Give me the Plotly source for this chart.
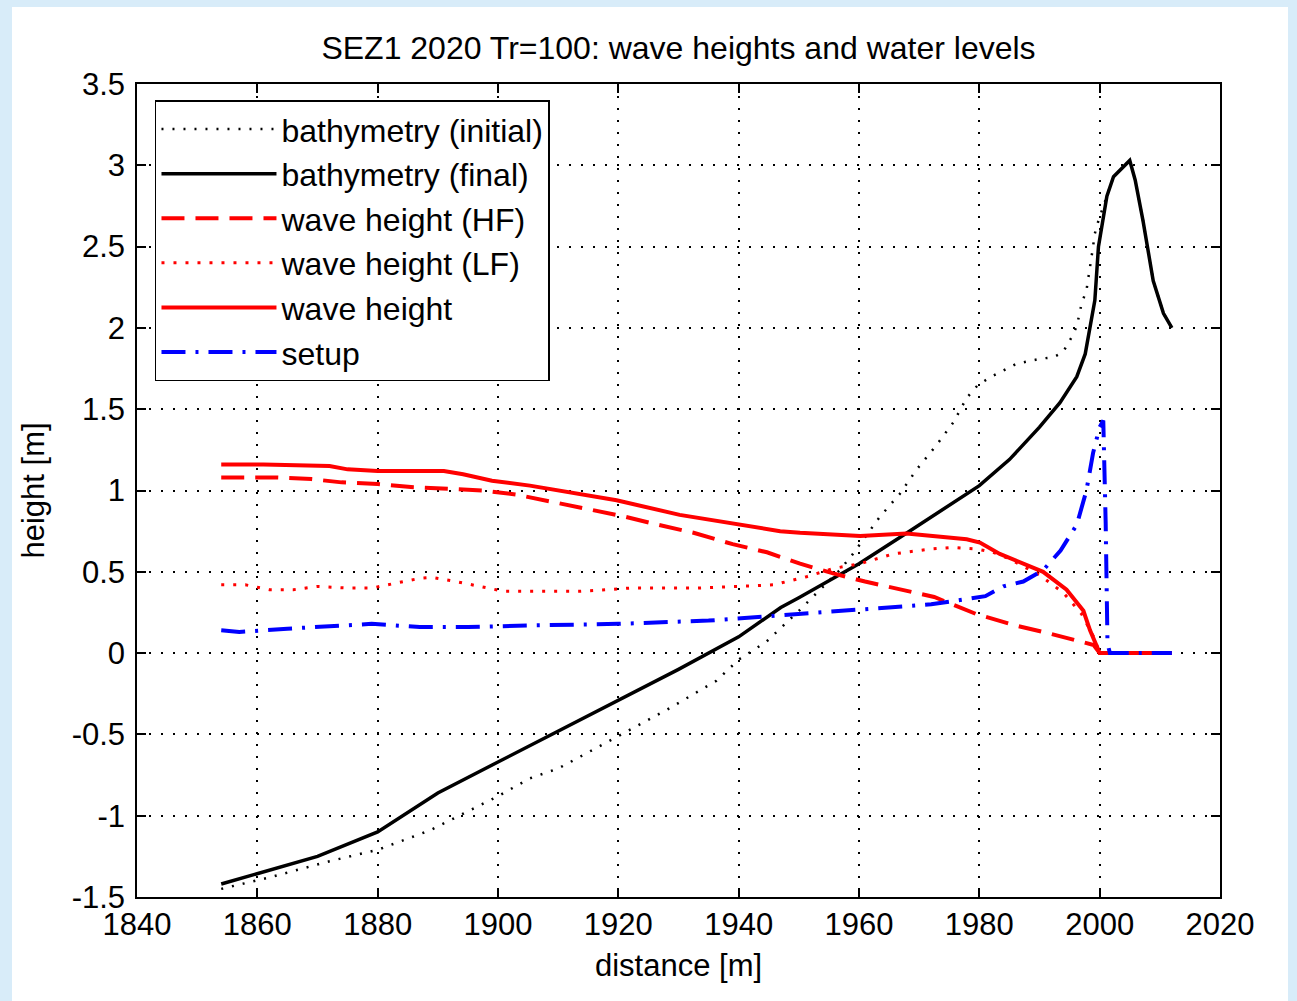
import plotly.graph_objects as go

# ---- data ----
bathy_init_x = [1854, 1862, 1872, 1880, 1888.7, 1900, 1905.3, 1910, 1920, 1928, 1936.3, 1940, 1944.6,
                1950, 1956.8, 1959, 1963.5, 1966.8, 1969.6, 1972.9, 1975.7, 1977.9, 1979.8, 1982,
                1986.2, 1990.1, 1992.3, 1993.9, 1995.3, 1996.2, 1997, 1997.8, 1998.7, 1999.2, 1999.8,
                2001.2, 2002.3, 2005, 2005.9, 2007.2, 2008.9, 2010.6, 2012]
bathy_init_y = [-1.45, -1.38, -1.28, -1.21, -1.09, -0.88, -0.77, -0.71, -0.51, -0.35, -0.17, -0.04, 0.07,
                0.26, 0.51, 0.61, 0.84, 0.98, 1.13, 1.28, 1.42, 1.57, 1.65, 1.70,
                1.78, 1.81, 1.82, 1.85, 1.94, 2.01, 2.15, 2.23, 2.45, 2.58, 2.66,
                2.81, 2.93, 3.03, 2.91, 2.66, 2.29, 2.09, 2.00]

bathy_final_x = [1854, 1860, 1870, 1880, 1890, 1900, 1910, 1920, 1930, 1940, 1947, 1950, 1960, 1968,
                 1975, 1980, 1985, 1990, 1993.4, 1996.2, 1997.6, 1998.4, 1999.2, 1999.8, 2001.2,
                 2002.3, 2005, 2005.9, 2007.2, 2008.9, 2010.6, 2012]
bathy_final_y = [-1.42, -1.355, -1.25, -1.10, -0.86, -0.67, -0.48, -0.29, -0.10, 0.10, 0.28, 0.34, 0.55, 0.74,
                 0.91, 1.03, 1.19, 1.39, 1.54, 1.70, 1.84, 2.01, 2.17, 2.50, 2.81,
                 2.93, 3.03, 2.91, 2.66, 2.29, 2.09, 2.00]

hf_x = [1854, 1863, 1869, 1874, 1880, 1886, 1892, 1897.5, 1903, 1909, 1915, 1921, 1926.5, 1932.5, 1939,
        1944.7, 1950.2, 1955.7, 1961, 1967, 1972.5, 1979.5, 1986, 1991.7, 1999, 2000, 2012]
hf_y = [1.08, 1.08, 1.07, 1.05, 1.04, 1.02, 1.01, 1.00, 0.975, 0.93, 0.88, 0.84, 0.79, 0.74, 0.67,
        0.62, 0.55, 0.49, 0.44, 0.39, 0.345, 0.24, 0.17, 0.12, 0.05, 0.0, 0.0]

lf_x = [1854, 1858, 1862, 1866, 1870, 1875, 1879, 1883, 1887, 1889, 1893, 1897, 1901, 1907.5, 1913.6,
        1918, 1922, 1928, 1933, 1940, 1945.8, 1951.3, 1955.7, 1960.2, 1965.7, 1971.8, 1975.7,
        1979.6, 1982.3, 1985, 1990, 1994, 1997, 1999, 2000, 2012]
lf_y = [0.42, 0.42, 0.39, 0.39, 0.41, 0.40, 0.40, 0.43, 0.46, 0.465, 0.44, 0.41, 0.38, 0.38, 0.38,
        0.39, 0.40, 0.40, 0.40, 0.41, 0.42, 0.47, 0.52, 0.55, 0.61, 0.64, 0.65,
        0.64, 0.62, 0.58, 0.48, 0.37, 0.24, 0.10, 0.0, 0.0]

wave_x = [1854, 1861, 1872, 1875, 1880, 1891, 1894.2, 1899, 1905.3, 1912, 1919.7, 1930.2, 1939.7, 1946.9,
          1950.2, 1960.2, 1967.9, 1977.9, 1980.1, 1983.4, 1990.6, 1994.5, 1997.3, 1998.4, 2000, 2012]
wave_y = [1.16, 1.16, 1.15, 1.13, 1.12, 1.12, 1.10, 1.06, 1.03, 0.99, 0.94, 0.85, 0.795, 0.75,
          0.74, 0.72, 0.735, 0.70, 0.68, 0.61, 0.50, 0.39, 0.26, 0.14, 0.0, 0.0]

setup_x = [1854, 1857, 1865, 1873, 1879, 1887, 1895, 1905, 1920, 1935, 1946, 1958, 1972, 1981, 1984,
           1987.3, 1990.6, 1993.5, 1996.2, 1997.8, 1998.9, 2000, 2000.6, 2001.0, 2001.3, 2001.7, 2012]
setup_y = [0.14, 0.13, 0.15, 0.17, 0.18, 0.16, 0.16, 0.17, 0.18, 0.20, 0.23, 0.26, 0.30, 0.35, 0.41,
           0.44, 0.51, 0.63, 0.79, 1.00, 1.23, 1.39, 1.43, 0.80, 0.06, 0.0, 0.0]

x_ticks = [1840, 1860, 1880, 1900, 1920, 1940, 1960, 1980, 2000, 2020]
y_ticks = [-1.5, -1, -0.5, 0, 0.5, 1, 1.5, 2, 2.5, 3, 3.5]
y_tick_labels = ["-1.5", "-1", "-0.5", "0", "0.5", "1", "1.5", "2", "2.5", "3", "3.5"]

FONT = "Liberation Sans, Arial, sans-serif"

fig = go.Figure()
fig.add_trace(go.Scatter(x=bathy_init_x, y=bathy_init_y, mode="lines", name="bathymetry (initial)",
                         line=dict(color="black", width=2.5, dash="2px,9px")))
fig.add_trace(go.Scatter(x=bathy_final_x, y=bathy_final_y, mode="lines", name="bathymetry (final)",
                         line=dict(color="black", width=3.5)))
fig.add_trace(go.Scatter(x=hf_x, y=hf_y, mode="lines", name="wave height (HF)",
                         line=dict(color="#ff0000", width=4, dash="23px,11px")))
fig.add_trace(go.Scatter(x=lf_x, y=lf_y, mode="lines", name="wave height (LF)",
                         line=dict(color="#ff0000", width=3, dash="3px,9px")))
fig.add_trace(go.Scatter(x=wave_x, y=wave_y, mode="lines", name="wave height",
                         line=dict(color="#ff0000", width=4)))
fig.add_trace(go.Scatter(x=setup_x, y=setup_y, mode="lines", name="setup",
                         line=dict(color="#0000ff", width=4, dash="24px,10px,3px,10px")))

axis_common = dict(
    showline=True, linecolor="black", linewidth=1.5, mirror="ticks",
    ticks="inside", ticklen=9, tickwidth=1.5, tickcolor="black",
    showgrid=True, gridcolor="black", gridwidth=1.5, griddash="2px,10px",
    zeroline=False, tickfont=dict(family=FONT, size=31, color="black"),
)

fig.update_xaxes(range=[1840, 2020], tickvals=x_ticks, ticktext=[str(v) for v in x_ticks],
                 title=dict(text="distance [m]", font=dict(family=FONT, size=31, color="black"), standoff=13),
                 ticklabelstandoff=-1, **axis_common)
fig.update_yaxes(range=[-1.5, 3.5], tickvals=y_ticks, ticktext=y_tick_labels,
                 title=dict(text="height [m]", font=dict(family=FONT, size=31, color="black"), standoff=18),
                 ticklabelstandoff=4, **axis_common)

fig.add_shape(type="rect", xref="paper", yref="paper", x0=-0.1154, x1=1.0628, y0=-0.13, y1=1.0947,
              fillcolor="white", line=dict(width=0), layer="below")

fig.update_layout(
    width=1297, height=1001,
    margin=dict(l=137, r=77, t=84, b=104),
    paper_bgcolor="#d8ecf9", plot_bgcolor="white",
    title=dict(text="SEZ1 2020 Tr=100: wave heights and water levels", x=0.5, xref="paper",
               y=1 - 48 / 1001, yanchor="middle",
               font=dict(family=FONT, size=32, color="black")),
    legend=dict(x=0.0166, y=0.980, xanchor="left", yanchor="top",
                bgcolor="white", bordercolor="black", borderwidth=1.5,
                font=dict(family=FONT, size=32, color="black"), itemwidth=115),
    showlegend=True,
)

fig.write_html("out.html", config={"displayModeBar": False},
               post_script="document.body.style.margin='0px';")
